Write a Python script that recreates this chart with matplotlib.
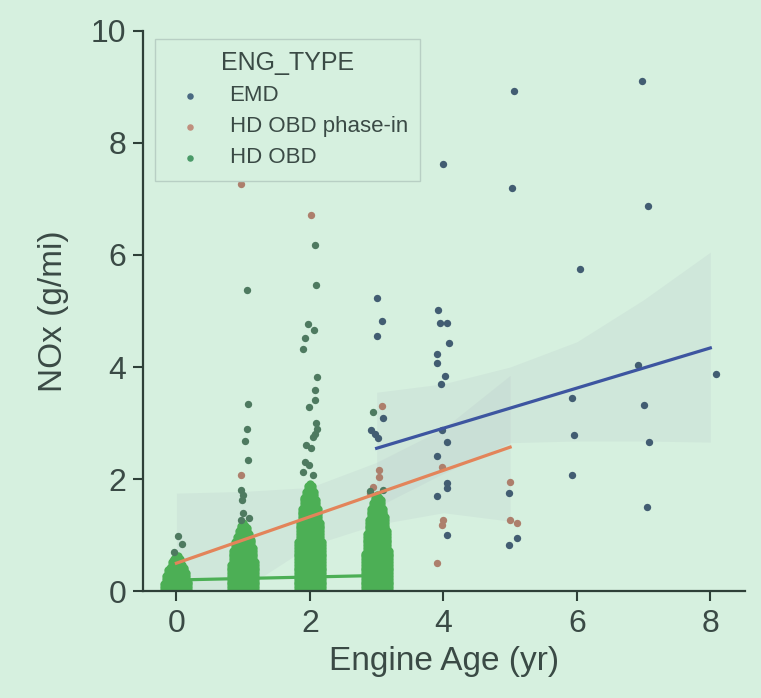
import matplotlib.pyplot as plt
import numpy as np

plt.rcParams['font.family'] = ['Liberation Sans', 'DejaVu Sans']

bg = '#d6f0df'
ink = '#3a4a45'

# scattered points (x already jittered)
emd_x = [3.0, 3.08, 3.0, 3.1, 2.92, 2.97, 3.02,
         3.99, 3.92, 3.95, 4.05, 4.09, 3.91, 3.91, 4.03, 3.96, 3.98, 4.05, 3.91, 4.05, 4.05, 3.91, 4.06,
         5.06, 5.03, 4.98, 5.1, 4.99,
         6.04, 5.93, 5.96, 5.93,
         6.97, 7.06, 6.91, 7.0, 7.08, 7.05,
         8.09]
emd_y = [5.23, 4.82, 4.55, 3.09, 2.87, 2.80, 2.73,
         7.62, 5.02, 4.79, 4.79, 4.43, 4.23, 4.07, 3.84, 3.70, 2.87, 2.66, 2.41, 1.93, 1.84, 1.70, 1.0,
         8.93, 7.2, 1.75, 0.95, 0.82,
         5.75, 3.45, 2.79, 2.07,
         9.1, 6.88, 4.04, 3.32, 2.66, 1.5,
         3.88]

phase_x = [0.0, 0.05, -0.05,
           0.96, 0.97, 1.0,
           2.02, 2.0,
           3.08, 3.04, 3.04, 2.94, 2.9,
           3.98, 4.0, 3.98, 3.91,
           5.0, 5.0, 5.1]
phase_y = [0.5, 0.45, 0.55,
           7.27, 2.07, 0.9,
           6.71, 1.3,
           3.3, 2.16, 2.04, 1.86, 1.75,
           2.21, 1.27, 1.18, 0.5,
           1.95, 1.27, 1.21]

obd_x = [0.02, 0.09, -0.04,
         1.05, 1.07, 1.05, 1.02, 1.07, 0.97, 1.0, 0.98, 1.0, 1.08, 0.96,
         2.08, 2.09, 1.97, 2.06, 1.93, 1.90, 2.10, 2.08, 2.07, 1.98, 2.09, 2.10, 2.08, 2.05,
         1.94, 2.02, 1.92, 1.98, 1.9, 2.05,
         2.94, 3.1, 2.9]
obd_y = [0.98, 0.84, 0.70,
         5.37, 3.34, 2.89, 2.68, 2.34, 1.80, 1.72, 1.63, 1.39, 1.30, 1.27,
         6.18, 5.46, 4.77, 4.66, 4.52, 4.32, 3.82, 3.59, 3.41, 3.29, 3.0, 2.9, 2.8, 2.75,
         2.6, 2.55, 2.3, 2.25, 2.12, 2.08,
         3.2, 1.8, 1.78]

# dense HD OBD columns: jitter lanes and the top of the pile in each lane
obd_ages = [0, 1, 2, 3]
lane_offsets = [-0.18, -0.15, -0.12, -0.09, -0.06, -0.03, 0.0,
                0.03, 0.06, 0.09, 0.12, 0.15, 0.18]
lane_tops = [
    [0.15, 0.28, 0.38, 0.46, 0.54, 0.6, 0.64, 0.62, 0.57, 0.5, 0.42, 0.32, 0.18],
    [0.5, 0.72, 0.88, 1.0, 1.1, 1.17, 1.22, 1.2, 1.14, 1.05, 0.93, 0.78, 0.55],
    [0.9, 1.25, 1.5, 1.68, 1.8, 1.88, 1.95, 1.9, 1.8, 1.66, 1.48, 1.22, 0.9],
    [0.7, 1.05, 1.3, 1.48, 1.6, 1.68, 1.72, 1.7, 1.62, 1.5, 1.32, 1.08, 0.75],
]
pile_levels = [0.02, 0.07, 0.12, 0.17, 0.22, 0.27, 0.32, 0.37, 0.42, 0.47,
               0.52, 0.57, 0.62, 0.67, 0.72, 0.77, 0.82, 0.87, 0.92, 0.97,
               1.02, 1.07, 1.12, 1.17, 1.22, 1.27, 1.32, 1.37, 1.42, 1.47,
               1.52, 1.57, 1.62, 1.67, 1.72, 1.77, 1.82, 1.87, 1.92]

# fitted lines and confidence bands
emd_fit_x = [3, 8]
emd_fit_y = [2.55, 4.34]
emd_ci_x = [3, 4, 5, 6, 7, 8]
emd_ci_hi = [3.55, 3.7, 4.0, 4.45, 5.2, 6.05]
emd_ci_lo = [1.5, 2.1, 2.65, 2.68, 2.68, 2.66]

phase_fit_x = [0, 5]
phase_fit_y = [0.5, 2.57]
phase_ci_x = [0, 1, 2, 3, 4, 5]
phase_ci_hi = [1.75, 1.78, 1.85, 2.3, 2.9, 3.85]
phase_ci_lo = [-0.75, 0.04, 0.81, 1.19, 1.4, 1.25]

obd_fit_x = [0, 3]
obd_fit_y = [0.2, 0.28]

c_emd_pt = '#425d72'
c_phase_pt = '#ad7f6c'
c_obd_pt = '#4e7a60'
c_obd_pile = '#4caf55'
c_emd_line = '#3d55a0'
c_phase_line = '#e3845a'
c_obd_line = '#4caf55'

fig = plt.figure(figsize=(7.61, 6.98), dpi=100, facecolor=bg)
ax = fig.add_axes([0.188, 0.153, 0.791, 0.803], facecolor=bg)

ax.fill_between(phase_ci_x, phase_ci_lo, phase_ci_hi, color='#a4acbc', alpha=0.13, lw=0, zorder=1)
ax.fill_between(emd_ci_x, emd_ci_lo, emd_ci_hi, color='#a4acbc', alpha=0.13, lw=0, zorder=1)

ax.scatter(emd_x, emd_y, s=28, color=c_emd_pt, lw=0, zorder=2)
ax.scatter(phase_x, phase_y, s=28, color=c_phase_pt, lw=0, zorder=2)

pile_x, pile_y = [], []
for age, tops in zip(obd_ages, lane_tops):
    for off, top in zip(lane_offsets, tops):
        for y in pile_levels:
            if y <= top:
                pile_x.append(age + off)
                pile_y.append(y)
ax.scatter(pile_x, pile_y, s=36, color=c_obd_pile, lw=0, zorder=2)
ax.scatter(obd_x, obd_y, s=28, color=c_obd_pt, lw=0, zorder=2)

ax.plot(obd_fit_x, obd_fit_y, color=c_obd_line, lw=2.3, zorder=4)
ax.plot(phase_fit_x, phase_fit_y, color=c_phase_line, lw=2.3, zorder=4)
ax.plot(emd_fit_x, emd_fit_y, color=c_emd_line, lw=2.3, zorder=4)

ax.set_xlim(-0.5, 8.52)
ax.set_ylim(0, 10)
ax.set_xticks([0, 2, 4, 6, 8])
ax.set_yticks([0, 2, 4, 6, 8, 10])
for s in ['top', 'right']:
    ax.spines[s].set_visible(False)
for s in ['left', 'bottom']:
    ax.spines[s].set_color('#2e4038')
    ax.spines[s].set_linewidth(1.6)
ax.tick_params(length=7, width=1.5, color='#2e4038', labelsize=23, labelcolor=ink, pad=5)
ax.tick_params(axis='x', pad=6)
ax.set_xlabel('Engine Age (yr)', fontsize=24, color=ink, labelpad=5)
ax.set_ylabel('NOx (g/mi)', fontsize=24, color=ink, labelpad=16)

h1 = ax.scatter([], [], s=22, color='#4a6a82', lw=0)
h2 = ax.scatter([], [], s=22, color='#c0907e', lw=0)
h3 = ax.scatter([], [], s=22, color='#4a9a68', lw=0)
leg = ax.legend([h1, h2, h3], ['EMD', 'HD OBD phase-in', 'HD OBD'], title='ENG_TYPE',
                loc='upper left', bbox_to_anchor=(0.02, 0.985), borderaxespad=0,
                fontsize=16, title_fontsize=18, frameon=True, facecolor=bg,
                edgecolor='#b8cfc4', framealpha=1, borderpad=0.55, handlelength=2.0,
                handletextpad=0.8, labelspacing=0.45, fancybox=False)
leg._legend_box.align = 'center'
for t in leg.get_texts():
    t.set_color(ink)
leg.get_title().set_color(ink)

plt.savefig('out.png', facecolor=bg)
